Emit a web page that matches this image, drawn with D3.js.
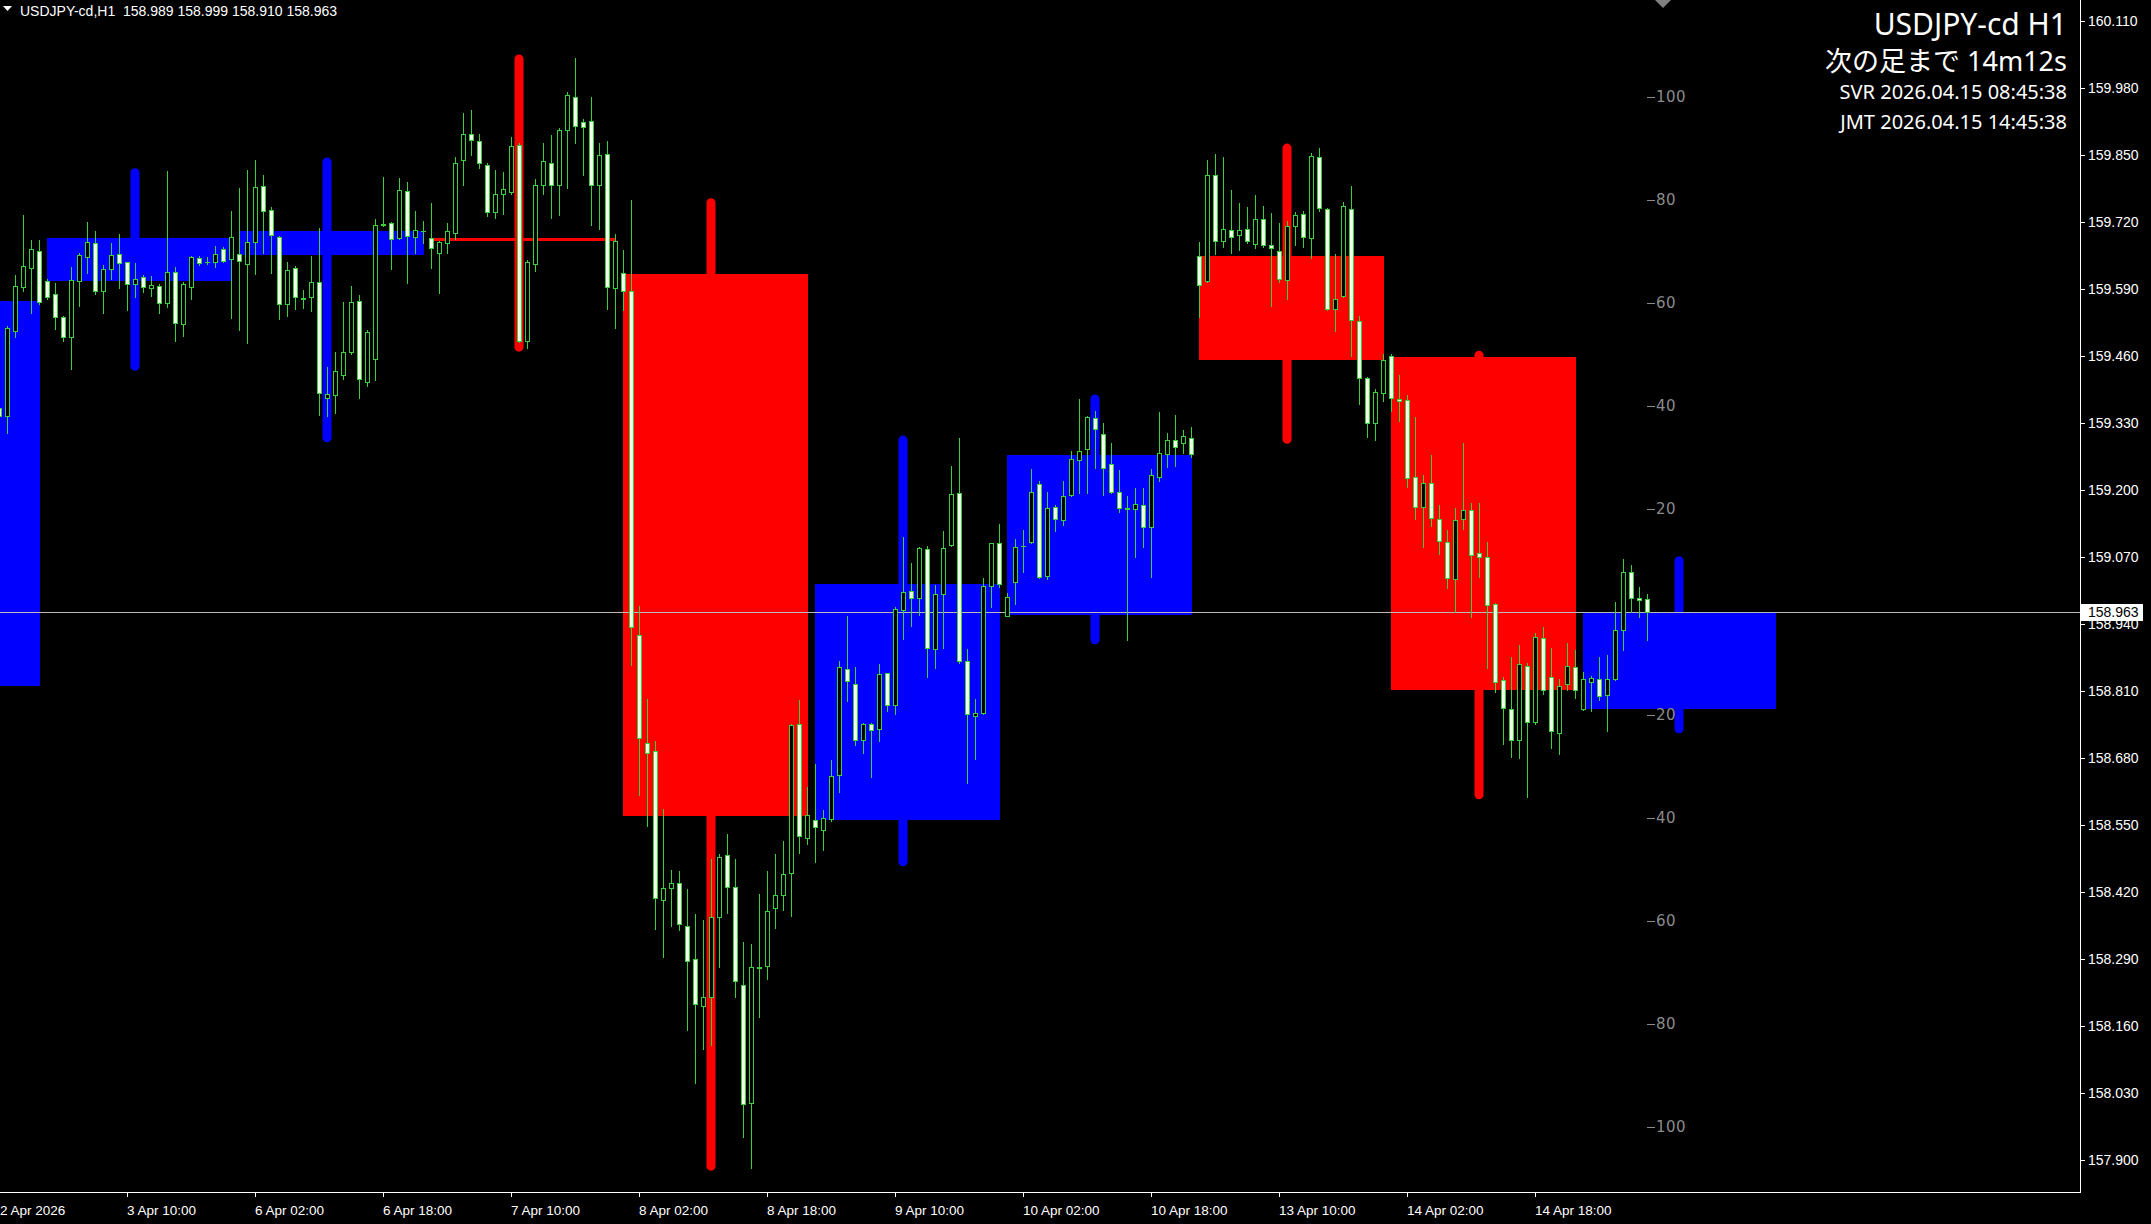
<!DOCTYPE html>
<html><head><meta charset="utf-8">
<script src="https://cdn.jsdelivr.net/npm/d3@7"></script>
<style>html,body{margin:0;padding:0;background:#000;overflow:hidden}</style>
</head><body>
<svg id="c" width="2151" height="1224"></svg>
<script>
// ---------- data ----------
const symbolHeader = "USDJPY-cd,H1";
const lastOHLC = [158.989, 158.999, 158.910, 158.963];
const bidPrice = 158.963;
const titleLines = ["USDJPY-cd H1", "次の足まで 14m12s", "SVR 2026.04.15 08:45:38", "JMT 2026.04.15 14:45:38"];

// hourly bars, first bar = 2 Apr 18:00 (index 0)
const hOpen = [159.359,159.344,159.510,159.595,159.631,159.665,159.606,159.580,159.536,159.498,159.607,159.652,159.679,159.586,159.630,159.658,159.643,159.600,159.614,159.592,159.597,159.563,159.623,159.522,159.595,159.650,159.644,159.643,159.668,159.648,
159.658,159.639,159.681,159.791,159.744,159.692,159.561,159.632,159.573,159.575,159.605,159.380,159.384,159.423,159.468,159.568,159.410,159.454,159.714,159.718,159.689,159.780,159.692,159.704,
159.690,159.660,159.680,159.700,159.842,159.892,159.878,159.832,159.740,159.775,159.779,159.871,159.490,159.640,159.792,159.836,159.792,159.900,159.964,159.915,159.917,159.792,159.853,159.593,
159.621,159.586,158.918,158.710,158.694,158.405,158.428,158.437,158.354,158.289,158.198,158.217,158.371,158.491,158.430,158.240,158.010,158.274,158.277,158.388,158.414,158.457,158.747,158.525,
158.559,158.540,158.561,158.648,158.852,158.823,158.716,158.746,158.736,158.845,158.783,158.967,159.005,158.990,159.085,158.891,158.999,159.094,159.194,158.869,158.762,158.767,159.014,159.097,
158.956,159.021,159.091,159.100,159.212,159.034,159.167,159.142,159.191,159.259,159.281,159.341,159.310,159.250,159.197,159.165,159.163,159.171,159.129,159.226,159.270,159.298,159.291,159.301,
159.655,159.606,159.811,159.684,159.705,159.695,159.707,159.678,159.726,159.676,159.665,159.608,159.712,159.737,159.689,159.846,159.746,159.551,159.577,159.745,159.529,159.417,159.331,159.388,
159.460,159.377,159.375,159.225,159.167,159.214,159.145,159.099,159.028,159.145,159.162,159.078,159.070,158.980,158.831,158.775,158.716,158.859,158.750,158.914,158.837,158.729,158.823,158.857,
158.775,158.828,158.834,158.802,158.834,158.929,159.042,158.990,158.989];
const hHigh = [159.362,159.518,159.618,159.734,159.686,159.686,159.610,159.603,159.538,159.634,159.661,159.721,159.704,159.637,159.679,159.698,159.644,159.641,159.618,159.615,159.600,159.820,159.634,159.605,159.654,159.655,159.652,159.674,159.672,159.743,
159.786,159.822,159.841,159.812,159.749,159.694,159.644,159.635,159.588,159.655,159.709,159.439,159.469,159.565,159.597,159.579,159.511,159.726,159.808,159.720,159.806,159.799,159.742,159.723,
159.758,159.684,159.718,159.846,159.932,159.939,159.892,159.835,159.821,159.818,159.885,159.875,159.647,159.804,159.875,159.889,159.903,159.974,160.039,159.920,159.964,159.875,159.878,159.697,
159.666,159.764,158.975,158.795,158.713,158.582,158.462,158.460,158.426,158.377,158.365,158.485,158.494,158.533,158.485,158.323,158.320,158.417,158.460,158.494,158.519,158.747,158.793,158.624,
158.669,158.579,158.676,158.868,158.956,158.856,158.749,158.749,158.863,158.846,158.974,159.110,159.059,159.090,159.092,159.016,159.121,159.247,159.301,158.891,158.794,159.029,159.098,159.134,
159.001,159.105,159.123,159.241,159.217,159.196,159.171,159.217,159.277,159.378,159.344,159.354,159.330,159.292,159.239,159.188,159.205,159.205,159.241,159.351,159.312,159.346,159.317,159.323,
159.682,159.842,159.853,159.847,159.783,159.758,159.749,159.774,159.752,159.739,159.718,159.722,159.741,159.743,159.855,159.864,159.747,159.659,159.760,159.791,159.539,159.419,159.396,159.465,
159.465,159.423,159.385,159.342,159.230,159.268,159.171,159.123,159.165,159.291,159.175,159.175,159.099,158.981,158.837,158.876,158.899,158.865,158.922,158.935,158.893,158.834,158.904,158.889,
158.847,158.840,158.876,158.880,158.983,159.067,159.055,159.013,158.999];
const hLow = [159.337,159.311,159.498,159.586,159.544,159.562,159.572,159.513,159.490,159.435,159.558,159.621,159.581,159.545,159.610,159.592,159.549,159.575,159.584,159.577,159.545,159.556,159.490,159.500,159.571,159.637,159.639,159.634,159.643,159.534,
159.512,159.485,159.619,159.661,159.621,159.532,159.539,159.552,159.553,159.547,159.346,159.345,159.349,159.415,159.465,159.379,159.402,159.414,159.712,159.629,159.687,159.602,159.660,159.679,
159.631,159.583,159.661,159.687,159.792,159.851,159.825,159.732,159.728,159.737,159.775,159.488,159.476,159.626,159.775,159.728,159.735,159.787,159.875,159.811,159.714,159.707,159.552,159.515,
159.550,158.860,158.608,158.548,158.348,158.294,158.354,158.346,158.152,158.050,158.115,158.123,158.274,158.380,158.217,157.944,157.884,158.178,158.252,158.351,158.385,158.374,158.496,158.514,
158.479,158.502,158.557,158.615,158.790,158.705,158.689,158.643,158.714,158.772,158.765,158.912,158.937,158.958,158.837,158.854,158.893,159.092,158.864,158.631,158.679,158.766,158.974,159.013,
158.955,158.979,159.042,159.098,159.029,159.028,159.120,159.133,159.188,159.194,159.194,159.244,159.191,159.194,159.158,158.909,159.070,159.090,159.032,159.217,159.246,159.247,159.272,159.264,
159.537,159.604,159.659,159.672,159.661,159.667,159.680,159.670,159.672,159.558,159.604,159.571,159.676,159.672,159.651,159.743,159.550,159.510,159.575,159.461,159.367,159.303,159.297,159.373,
159.353,159.335,159.207,159.145,159.089,159.131,159.076,159.011,158.964,159.124,158.954,159.032,158.855,158.809,158.708,158.682,158.680,158.604,158.747,158.804,158.699,158.687,158.813,158.796,
158.773,158.771,158.792,158.733,158.831,158.890,158.963,158.954,158.910];
const hClose = [159.344,159.514,159.597,159.635,159.668,159.566,159.576,159.536,159.497,159.608,159.657,159.681,159.586,159.630,159.657,159.641,159.600,159.611,159.595,159.598,159.563,159.623,159.524,159.600,159.652,159.642,159.643,159.658,159.645,159.691,
159.645,159.681,159.788,159.743,159.695,159.561,159.628,159.575,159.572,159.604,159.388,159.387,159.432,159.468,159.566,159.415,159.507,159.715,159.716,159.688,159.782,159.694,159.705,159.703,
159.670,159.681,159.704,159.836,159.892,159.879,159.836,159.740,159.775,159.785,159.868,159.490,159.643,159.792,159.839,159.792,159.900,159.967,159.908,159.906,159.792,159.851,159.594,159.683,
159.586,158.935,158.719,158.690,158.408,158.428,158.437,158.358,158.286,158.203,158.217,158.371,158.487,158.430,158.248,158.009,158.274,158.272,158.383,158.414,158.454,158.745,158.528,158.569,
158.546,158.563,158.646,158.856,158.830,158.716,158.747,158.735,158.843,158.783,158.969,159.002,158.990,159.087,158.893,158.998,159.087,159.192,158.869,158.765,158.767,159.015,159.097,159.018,
158.993,159.090,159.092,159.197,159.031,159.165,159.144,159.189,159.260,159.276,159.342,159.318,159.243,159.197,159.166,159.164,159.173,159.129,159.230,159.272,159.298,159.283,159.305,159.270,
159.598,159.811,159.684,159.707,159.692,159.705,159.684,159.726,159.676,159.670,159.610,159.712,159.735,159.691,159.848,159.747,159.551,159.572,159.752,159.530,159.417,159.331,159.390,159.453,
159.380,159.373,159.223,159.167,159.214,159.147,159.101,159.029,159.143,159.162,159.074,159.070,158.977,158.828,158.778,158.716,158.862,158.750,158.916,158.813,158.733,158.820,158.859,158.813,
158.834,158.836,158.800,158.834,158.929,159.042,158.990,158.986,158.963];

// daily overlay candles (first hourly bar index of each day)
const dayNames = ["2 Apr","3 Apr","6 Apr","7 Apr","8 Apr","9 Apr","10 Apr","13 Apr","14 Apr","15 Apr"];
const dayStart = [-18, 6, 30, 54, 78, 102, 126, 150, 174, 198];
const dOpen  = [158.819,159.607,159.657,159.690,159.620,158.559,158.957,159.655,159.458,158.776];
const dHigh  = [159.700,159.825,159.846,160.046,159.767,159.306,159.386,159.873,159.471,159.072];
const dLow   = [158.600,159.432,159.293,159.469,157.879,158.470,158.901,159.290,158.600,158.728];
const dClose = [159.567,159.690,159.703,159.686,158.568,159.018,159.269,159.452,158.813,158.963];

// axes
const priceTicks = [157.900,158.030,158.160,158.290,158.420,158.550,158.680,158.810,158.940,159.070,159.200,159.330,159.460,159.590,159.720,159.850,159.980,160.110];
const timeTickIdx = [0,16,32,48,64,80,96,112,128,144,160,176,192];
const timeTickLabels = ["2 Apr 2026","3 Apr 10:00","6 Apr 02:00","6 Apr 18:00","7 Apr 10:00","8 Apr 02:00","8 Apr 18:00","9 Apr 10:00","10 Apr 02:00","10 Apr 18:00","13 Apr 10:00","14 Apr 02:00","14 Apr 18:00"];
const pipLevels = [100,80,60,40,20,-20,-40,-60,-80,-100];

// ---------- drawing ----------
const W = 2151, H = 1224, plotR = 2080, plotB = 1192;
const svg = d3.select("#c");
svg.append("rect").attr("width", W).attr("height", H).attr("fill", "#000");

const x = d3.scaleLinear().domain([0, 260]).range([-1, 2079]);
const y = d3.scaleLinear().domain([157.8376, 160.1517]).range([plotB, 0]);

const plot = svg.append("g");
plot.append("clipPath").attr("id","clip").append("rect").attr("width", plotR).attr("height", plotB);
const g = plot.append("g").attr("clip-path","url(#clip)");

// daily boxes
const nDays = dayStart.length;
const days = d3.range(nDays).map(k => {
  const s = dayStart[k];
  const e = (k === nDays - 1) ? s + 24 : s + 23;
  return {s, e, m: Math.floor((s + e) / 2), o: dOpen[k], h: dHigh[k], l: dLow[k], c: dClose[k]};
});
const dg = g.append("g");
days.forEach(d => {
  const col = d.c >= d.o ? "#0000FF" : "#FF0000";
  const wx = Math.round(x(d.m));
  dg.append("rect").attr("x", wx - 4.5).attr("width", 9)
    .attr("y", y(d.h)).attr("height", y(d.l) - y(d.h)).attr("rx", 4.5).attr("fill", col);
  const top = Math.round(y(Math.max(d.o, d.c))), bot = Math.round(y(Math.min(d.o, d.c)));
  dg.append("rect").attr("x", Math.round(x(d.s))).attr("width", Math.round(x(d.e)) - Math.round(x(d.s)) + 1)
    .attr("y", top).attr("height", Math.max(3, bot - top)).attr("fill", col);
});

// bid line
g.append("rect").attr("x", 0).attr("width", plotR).attr("y", Math.round(y(bidPrice))).attr("height", 1).attr("fill", "#B8B8B8");

// hourly candles
const green = "#3CCF3C", bearFill = "#F4FFEC";
const cg = g.append("g");
hOpen.forEach((o, i) => {
  const c = hClose[i], hi = hHigh[i], lo = hLow[i];
  const cx = Math.round(x(i));
  const yh = Math.round(y(hi)), yl = Math.round(y(lo));
  cg.append("rect").attr("x", cx).attr("width", 1).attr("y", yh).attr("height", Math.max(1, yl - yh + 1)).attr("fill", green);
  const top = Math.round(y(Math.max(o, c))), bot = Math.round(y(Math.min(o, c)));
  const bh = Math.max(1, bot - top + 1);
  cg.append("rect").attr("x", cx - 2).attr("width", 5).attr("y", top).attr("height", bh).attr("fill", green);
  if (bh > 2) {
    cg.append("rect").attr("x", cx - 1).attr("width", 3).attr("y", top + 1).attr("height", bh - 2)
      .attr("fill", c < o ? bearFill : "#000");
  }
});

// pip scale near last bar
const lastIdx = hOpen.length - 1;
const px0 = Math.round(x(lastIdx));
const pg = g.append("g");
pipLevels.forEach(p => {
  const yy = Math.round(y(bidPrice + p / 100));
  pg.append("rect").attr("x", px0).attr("width", 8).attr("y", yy).attr("height", 1).attr("fill", "#8A8A8A");
  pg.append("text").attr("x", px0 + 9).attr("y", yy).attr("dy", "0.36em")
    .attr("font-family", "DejaVu Sans, sans-serif").attr("font-size", 15).attr("letter-spacing", "0.5px")
    .attr("fill", "#8A8A8A").text(Math.abs(p));
});

// chart shift marker
const sx = Math.round(x(lastIdx + 2));
svg.append("path").attr("d", `M${sx-8},0 L${sx+8},0 L${sx},8 Z`).attr("fill", "#808080");

// axes frame
svg.append("rect").attr("x", plotR).attr("y", 0).attr("width", 1).attr("height", plotB + 1).attr("fill", "#fff");
svg.append("rect").attr("x", 0).attr("y", plotB).attr("width", plotR + 1).attr("height", 1).attr("fill", "#fff");

// right axis
const ag = svg.append("g").attr("font-family", "Liberation Sans, Arial, sans-serif").attr("font-size", 14).attr("fill", "#fff");
priceTicks.forEach(p => {
  const yy = Math.round(y(p));
  ag.append("rect").attr("x", plotR + 1).attr("y", yy).attr("width", 4).attr("height", 1).attr("fill", "#fff");
  ag.append("text").attr("x", plotR + 8).attr("y", yy).attr("dy", "0.36em").text(p.toFixed(3));
});
// bid label
const by = Math.round(y(bidPrice));
svg.append("rect").attr("x", plotR + 1).attr("y", by - 8).attr("width", 62).attr("height", 17).attr("fill", "#fff");
svg.append("text").attr("x", plotR + 8).attr("y", by).attr("dy", "0.36em")
  .attr("font-family", "Liberation Sans, Arial, sans-serif").attr("font-size", 14).attr("fill", "#000").text(bidPrice.toFixed(3));

// bottom axis
timeTickIdx.forEach((ti, k) => {
  const tx = Math.round(x(ti));
  svg.append("rect").attr("x", tx).attr("y", plotB + 1).attr("width", 1).attr("height", 4).attr("fill", "#fff");
  svg.append("text").attr("x", Math.max(0, tx)).attr("y", 1215)
    .attr("font-family", "Liberation Sans, Arial, sans-serif").attr("font-size", 13.5).attr("fill", "#fff")
    .text(timeTickLabels[k]);
});

// header
svg.append("path").attr("d", "M3,6 L12,6 L7.5,11 Z").attr("fill", "#fff");
svg.append("text").attr("x", 20).attr("y", 16).attr("font-family", "Liberation Sans, Arial, sans-serif")
  .attr("font-size", 14).attr("fill", "#fff").attr("xml:space", "preserve")
  .text(symbolHeader + "  " + lastOHLC.map(v => v.toFixed(3)).join(" "));

// top-right info
const info = [{t: titleLines[0], y: 35, s: 30}, {t: titleLines[1], y: 71, s: 27}, {t: titleLines[2], y: 99, s: 20}, {t: titleLines[3], y: 129, s: 20}];
info.forEach(d => {
  svg.append("text").attr("x", 2067).attr("y", d.y).attr("text-anchor", "end")
    .attr("font-family", "Noto Sans, Noto Sans CJK JP, sans-serif").attr("font-size", d.s).attr("fill", "#fff").text(d.t);
});
</script>
</body></html>
